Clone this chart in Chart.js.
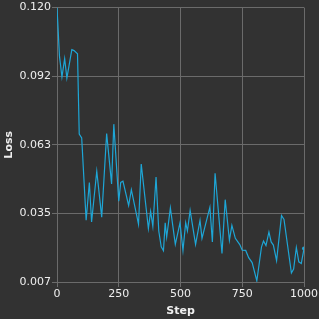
<!DOCTYPE html>
<html>
<head>
<meta charset="utf-8">
<script src="https://cdn.jsdelivr.net/npm/chart.js@4"></script>
<style>
  html, body { margin: 0; padding: 0; background: #323232; }
  #wrap { width: 319px; height: 319px; }
</style>
</head>
<body>
<div id="wrap"><canvas id="chart" width="319" height="319"></canvas></div>
<script>
// training loss trace
const steps = [0, 10, 20, 31, 40, 60, 69, 83, 90, 100,
  118, 131, 140, 161, 181, 201, 221, 230, 250, 258,
  267, 290, 301, 330, 341, 370, 379, 388, 401, 412,
  422, 431, 438, 444, 459, 479, 498, 510, 521, 528,
  539, 561, 579, 587, 619, 629, 640, 668, 681, 698,
  708, 722, 740, 750, 764, 776, 790, 809, 828, 836,
  846, 858, 867, 876, 889, 909, 919, 949, 958, 969,
  979, 989, 1000];
const losses = [0.1200, 0.1000, 0.0914, 0.0990, 0.0910, 0.1027, 0.1023, 0.1010, 0.0679, 0.0663,
  0.0324, 0.0480, 0.0317, 0.0526, 0.0337, 0.0681, 0.0474, 0.0720, 0.0403, 0.0480,
  0.0485, 0.0385, 0.0450, 0.0308, 0.0556, 0.0290, 0.0361, 0.0299, 0.0502, 0.0280,
  0.0215, 0.0199, 0.0314, 0.0254, 0.0375, 0.0225, 0.0314, 0.0200, 0.0314, 0.0280,
  0.0365, 0.0225, 0.0324, 0.0250, 0.0378, 0.0235, 0.0518, 0.0188, 0.0409, 0.0242,
  0.0303, 0.0250, 0.0224, 0.0201, 0.0200, 0.0170, 0.0150, 0.0075, 0.0215, 0.0239,
  0.0220, 0.0276, 0.0235, 0.0222, 0.0158, 0.0344, 0.0328, 0.0107, 0.0123, 0.0212,
  0.0153, 0.0146, 0.0208];

const xTicks = [0, 250, 500, 750, 1000];
const xTickLabels = ['0', '250', '500', '750', '1000'];
const yTickValues = [0.007, 0.03525, 0.0635, 0.09175, 0.120];
const yTickLabels = ['0.007', '0.035', '0.063', '0.092', '0.120'];

const gridColor = '#6b6b6b';
const textColor = '#efefef';

const bgPlugin = {
  id: 'bg',
  beforeDraw(chart) {
    const c = chart.ctx;
    c.save();
    c.fillStyle = '#323232';
    c.fillRect(0, 0, chart.width, chart.height);
    c.restore();
  }
};

const points = steps.map((s, i) => ({ x: s, y: losses[i] }));
const last = points.length - 1;

new Chart(document.getElementById('chart').getContext('2d'), {
  type: 'line',
  data: {
    datasets: [{
      label: 'Loss',
      data: points,
      borderColor: '#1ea6d6',
      backgroundColor: '#1ea6d6',
      borderWidth: 1.2,
      tension: 0,
      fill: false,
      pointRadius: ctx => ctx.dataIndex === last ? 2 : 0,
      pointBorderWidth: 0
    }]
  },
  options: {
    responsive: false,
    animation: false,
    devicePixelRatio: 1,
    layout: { padding: { top: 6, right: 14, left: 0, bottom: 0 } },
    plugins: { legend: { display: false }, tooltip: { enabled: false } },
    scales: {
      x: {
        type: 'linear',
        min: 0,
        max: 1000,
        afterBuildTicks: s => { s.ticks = xTicks.map(v => ({ value: v })); },
        afterFit: s => { s.height = 37; },
        grid: { color: gridColor, tickLength: 5, lineWidth: 1 },
        border: { color: gridColor },
        ticks: {
          color: textColor, padding: 1, maxRotation: 0,
          font: { family: 'DejaVu Sans', size: 11 },
          callback: (v, i) => xTickLabels[i]
        },
        title: {
          display: true, text: 'Step', color: textColor,
          padding: { top: 0, bottom: 1.5 },
          font: { family: 'DejaVu Sans', size: 11, weight: 'bold' }
        }
      },
      y: {
        min: 0.007,
        max: 0.120,
        afterBuildTicks: s => { s.ticks = yTickValues.map(v => ({ value: v })); },
        afterFit: s => { s.width = 57; },
        grid: { color: gridColor, tickLength: 5, lineWidth: 1 },
        border: { color: gridColor },
        ticks: {
          color: textColor, padding: 1,
          font: { family: 'DejaVu Sans', size: 11 },
          callback: (v, i) => yTickLabels[i]
        },
        title: {
          display: true, text: 'Loss', color: textColor,
          padding: { top: 3, bottom: 0 },
          font: { family: 'DejaVu Sans', size: 11, weight: 'bold' }
        }
      }
    }
  },
  plugins: [bgPlugin]
});
</script>
</body>
</html>
